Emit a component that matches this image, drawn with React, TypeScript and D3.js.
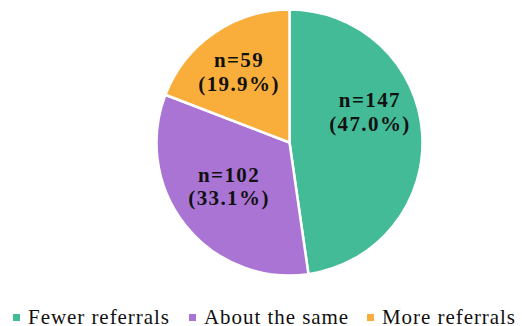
import React from "react";
import * as d3 from "d3";

const categories = ["Fewer referrals", "About the same", "More referrals"];
const counts = [147, 102, 59];
const percentLabels = ["47.0%", "33.1%", "19.9%"];
const colors = ["#43BB97", "#AA74D4", "#F9AE3B"];

const W = 522;
const H = 326;
const cx = 289.5;
const cy = 142.5;
const R = 133;

// per-slice label nudges (best-fit placement inside each slice)
const labelOffsets: [number, number][] = [
  [-1.8, -21.6],
  [4, -4],
  [-3.8, 0.5],
];

const FONT = "'Liberation Serif', 'Times New Roman', Times, serif";

export default function App() {
  const pie = d3.pie<number>().sort(null).value((d) => d);
  const arcs = pie(counts);
  const arc = d3.arc<d3.PieArcDatum<number>>().innerRadius(0).outerRadius(R);
  const labelArc = d3
    .arc<d3.PieArcDatum<number>>()
    .innerRadius(R * 0.62)
    .outerRadius(R * 0.62);

  const legendX = [12, 188, 366];

  return (
    <svg
      width={W}
      height={H}
      style={{ position: "absolute", left: 0, top: 0, background: "#fff" }}
    >
      <g transform={`translate(${cx},${cy})`}>
        {arcs.map((a, i) => (
          <path
            key={i}
            d={arc(a) || ""}
            fill={colors[i]}
            stroke="#fff"
            strokeWidth={2.5}
            strokeLinejoin="round"
          />
        ))}
        {arcs.map((a, i) => {
          const [x, y] = labelArc.centroid(a);
          const lx = x + labelOffsets[i][0];
          const ly = y + labelOffsets[i][1];
          return (
            <text
              key={i}
              x={lx}
              y={ly}
              textAnchor="middle"
              fontFamily={FONT}
              fontWeight="bold"
              fontSize={21}
              letterSpacing={1.4}
              fill="#111"
            >
              <tspan x={lx} dy={-8}>{`n=${counts[i]}`}</tspan>
              <tspan x={lx} dy={23.5}>{`(${percentLabels[i]})`}</tspan>
            </text>
          );
        })}
      </g>
      <g>
        {categories.map((c, i) => (
          <g key={c} transform={`translate(${legendX[i]},314)`}>
            <rect x={1} y={0} width={7} height={7} fill={colors[i]} />
            <text
              x={16}
              y={10}
              fontFamily={FONT}
              fontSize={21}
              letterSpacing={0.95}
              fill="#111"
            >
              {c}
            </text>
          </g>
        ))}
      </g>
    </svg>
  );
}
